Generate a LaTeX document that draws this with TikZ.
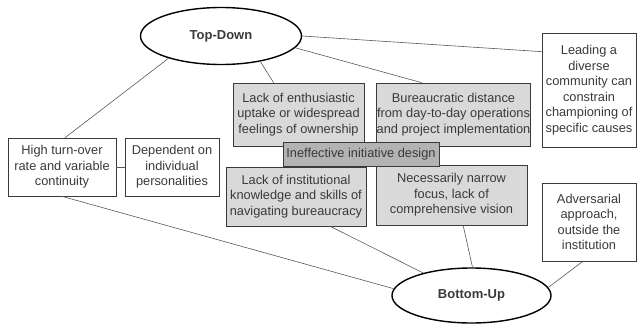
\documentclass[tikz,border=0pt]{standalone}
\usepackage{fontspec}
\setmainfont{Liberation Sans}
\usetikzlibrary{shapes.geometric}
\definecolor{inkgray}{HTML}{3A3A3A}
\definecolor{boxfill}{HTML}{D9D9D9}
\definecolor{darkfill}{HTML}{B3B3B3}
\begin{document}
\begin{tikzpicture}[x=1pt,y=-1pt,
            approach/.style={ellipse,draw=black,line width=1.4pt,
                    minimum width=159pt,minimum height=55pt,inner sep=0pt,
                    font=\fontsize{13}{15.5}\selectfont\bfseries,text=inkgray},
            factor/.style={rectangle,draw=inkgray,line width=0.7pt,fill=white,
                    inner sep=0pt,align=center,text=inkgray,
                    font=\fontsize{12.8}{15.5}\selectfont},
            design/.style={factor,fill=boxfill},
            core/.style={factor,fill=darkfill},
            link/.style={draw=inkgray!85,line width=0.6pt},
        ]
        \useasboundingbox (0,0) rectangle (637,324);

        % Approaches
        \node[approach,minimum width=161pt,minimum height=57pt] (td) at (221,36) {Top-Down};
        \node[approach] (bu) at (471.5,295.5) {Bottom-Up};

        % Left side factors
        \node[factor,minimum width=108pt,minimum height=58pt] (high) at (62,167)
            {High turn-over\\rate and variable\\continuity};
        \node[factor,minimum width=94pt,minimum height=58pt] (dep) at (172,167)
            {Dependent on\\individual\\personalities};

        % Right side factors
        \node[factor,minimum width=94pt,minimum height=114pt] (lead) at (589,90)
            {Leading a\\diverse\\community can\\constrain\\championing of\\specific causes};
        \node[factor,minimum width=94pt,minimum height=78pt] (adv) at (589,222)
            {Adversarial\\approach,\\outside the\\institution};

        % Initiative design factors
        \node[design,minimum width=131pt,minimum height=63pt] (uptake) at (298.5,114.5)
            {Lack of enthusiastic\\uptake or widespread\\feelings of ownership};
        \node[design,minimum width=153pt,minimum height=63pt] (distance) at (453.5,114.5)
            {Bureaucratic distance\\from day-to-day operations\\and project implementation};
        \node[design,minimum width=140pt,minimum height=59pt] (knowledge) at (296,196.5)
            {Lack of institutional\\knowledge and skills of\\navigating bureaucracy};
        \node[design,minimum width=151pt,minimum height=60pt] (focus) at (451.5,195)
            {Necessarily narrow\\focus, lack of\\comprehensive vision};
        \node[core,minimum width=156pt,minimum height=24pt] (ineff) at (361,154)
            {Ineffective initiative design};

        % Links to Top-Down
        \draw[link] (td.203) -- (high.84);
        \draw[link] (td.-33) -- (uptake.128);
        \draw[link] (td.-9) -- (distance.135);
        \draw[link] (td.east) -- (lead.141);

        % Links to Bottom-Up
        \draw[link] (high.south) -- (bu.175);
        \draw[link] (knowledge.-41) -- (bu.155);
        \draw[link] (focus.-69) -- (bu.88);
        \draw[link] (adv.261) -- (bu.6);

        % Side link
        \draw[link] (high) -- (dep);

    \end{tikzpicture}
\end{document}
